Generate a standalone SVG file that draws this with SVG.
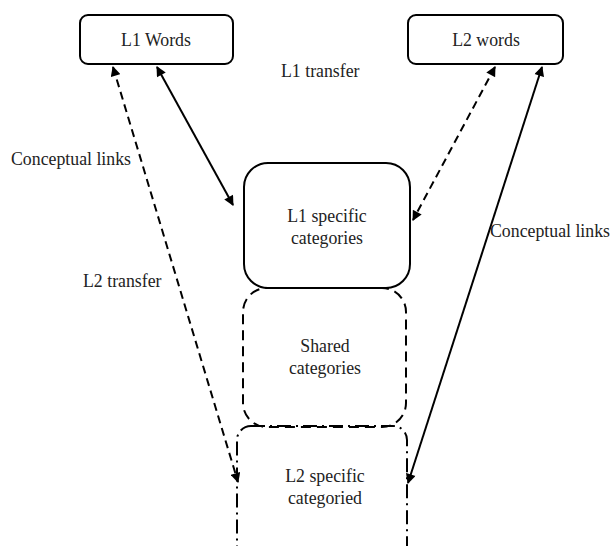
<svg xmlns="http://www.w3.org/2000/svg" width="610" height="546" viewBox="0 0 610 546">
  <style>
    .box { fill: none; stroke: #000; stroke-width: 2; }
    .dashed { stroke-dasharray: 10 6; }
    .dashdot { stroke-dasharray: 14 5 2 5; }
    text { font-family: 'Liberation Serif', 'Times New Roman', serif; font-size: 17.8px; fill: #222; }
    .mid { text-anchor: middle; }
    .link { stroke: #000; stroke-width: 2; fill: none; }
    .dash { stroke-dasharray: 8 5; }
  </style>
  <defs>
    <marker id="arrow" viewBox="0 0 10 10" refX="9" refY="5" markerWidth="5.5" markerHeight="5" orient="auto-start-reverse" markerUnits="strokeWidth">
      <path d="M0,0 L10,5 L0,10 z" fill="#000"/>
    </marker>
  </defs>

  <g id="l1-words">
    <rect class="box" x="80" y="15" width="153" height="49" rx="8"/>
    <text class="mid" x="156" y="46">L1 Words</text>
  </g>

  <g id="l2-words">
    <rect class="box" x="408" y="15" width="155" height="49" rx="8"/>
    <text class="mid" x="486" y="46">L2 words</text>
  </g>

  <g id="l1-specific">
    <rect class="box" x="244" y="163" width="166" height="125" rx="24"/>
    <text class="mid" x="327" y="222">L1 specific</text>
    <text class="mid" x="327" y="244">categories</text>
  </g>

  <g id="shared">
    <rect class="box dashed" x="243" y="288" width="163" height="139" rx="24"/>
    <text class="mid" x="325" y="352">Shared</text>
    <text class="mid" x="325" y="374">categories</text>
  </g>

  <g id="l2-specific">
    <rect class="box dashdot" x="237" y="426" width="170" height="134" rx="14"/>
    <text class="mid" x="325" y="482">L2 specific</text>
    <text class="mid" x="325" y="504">categoried</text>
  </g>

  <g id="connectors">
    <line class="link" x1="157" y1="67" x2="233" y2="205" marker-start="url(#arrow)" marker-end="url(#arrow)"/>
    <line class="link dash" x1="113" y1="67" x2="238" y2="482" marker-start="url(#arrow)" marker-end="url(#arrow)"/>
    <line class="link dash" x1="495" y1="67" x2="413" y2="220" marker-start="url(#arrow)" marker-end="url(#arrow)"/>
    <line class="link" x1="542" y1="67" x2="408" y2="483" marker-start="url(#arrow)" marker-end="url(#arrow)"/>
  </g>

  <g id="labels">
    <text x="281" y="77">L1 transfer</text>
    <text x="11" y="165">Conceptual links</text>
    <text x="83" y="287">L2 transfer</text>
    <text x="490" y="237">Conceptual links</text>
  </g>
</svg>
